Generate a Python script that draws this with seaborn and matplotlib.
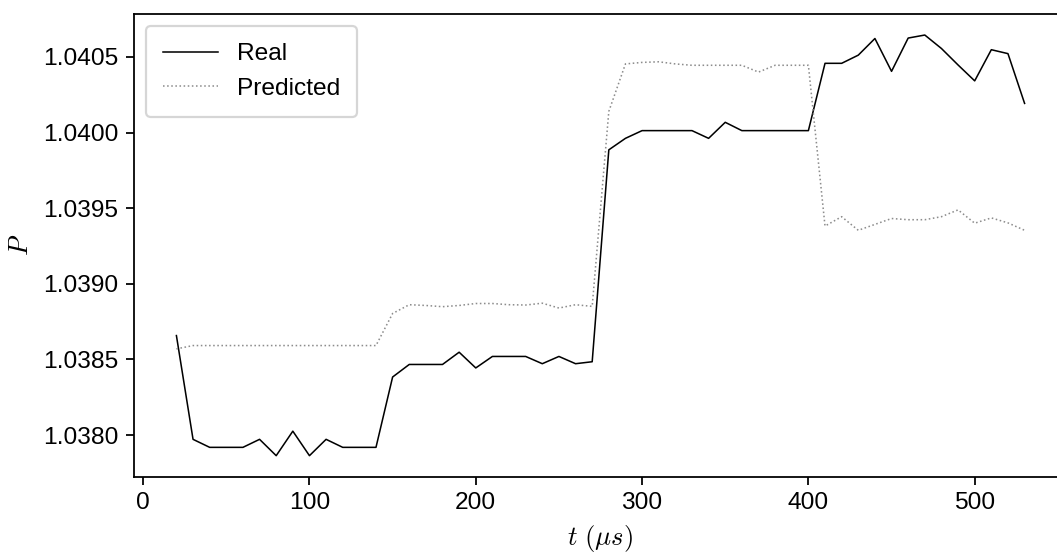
import numpy as np
import pandas as pd
import matplotlib
matplotlib.use("Agg")
import matplotlib.pyplot as plt
import seaborn as sns

# time axis (microseconds)
t = list(range(20, 540, 10))

real = [1.038658, 1.037972, 1.037919, 1.037919, 1.037919, 1.037972, 1.037864, 1.038026,
        1.037864, 1.037972, 1.037919, 1.037919, 1.037919,
        1.038384, 1.038467, 1.038467, 1.038467, 1.038548, 1.038444, 1.038520, 1.038520,
        1.038520, 1.038472, 1.038520, 1.038472, 1.038485,
        1.039886, 1.039962, 1.040013, 1.040013, 1.040013, 1.040013, 1.039962, 1.040068,
        1.040013, 1.040013, 1.040013, 1.040013, 1.040013,
        1.040458, 1.040458, 1.040512, 1.040622, 1.040405, 1.040625, 1.040645, 1.040556,
        1.040447, 1.040342, 1.040548, 1.040522, 1.040193]

predicted = [1.038570, 1.038592, 1.038592, 1.038592, 1.038592, 1.038592, 1.038592, 1.038592,
             1.038592, 1.038592, 1.038592, 1.038592, 1.038592,
             1.038804, 1.038862, 1.038857, 1.038849, 1.038857, 1.038870, 1.038870, 1.038862,
             1.038860, 1.038872, 1.038840, 1.038862, 1.038851,
             1.040140, 1.040454, 1.040464, 1.040468, 1.040454, 1.040445, 1.040445, 1.040445,
             1.040445, 1.040400, 1.040445, 1.040445, 1.040445,
             1.039382, 1.039444, 1.039354, 1.039393, 1.039432, 1.039424, 1.039424, 1.039444,
             1.039489, 1.039401, 1.039436, 1.039403, 1.039354]

labels = ["Real", "Predicted"]

df = pd.DataFrame({"t": t * 2,
                   "P": real + predicted,
                   "series": [labels[0]] * len(t) + [labels[1]] * len(t)})

plt.rcParams["font.family"] = ["Liberation Sans", "DejaVu Sans"]
plt.rcParams["mathtext.fontset"] = "cm"
plt.rcParams["font.size"] = 11

fig = plt.figure(figsize=(1057 / 160, 559 / 160), dpi=160)
ax = fig.add_axes([134 / 1057, 1 - 476.7 / 559, 933 / 1057, (476.7 - 14) / 559])

sns.lineplot(data=df[df.series == labels[0]], x="t", y="P", ax=ax,
             color="black", linewidth=0.7, label=labels[0])
sns.lineplot(data=df[df.series == labels[1]], x="t", y="P", ax=ax,
             color="#8c8c8c", linewidth=0.7, linestyle=":", label=labels[1])

ax.set_xlabel(r"$t\ (\mu s)$", fontsize=12)
ax.set_ylabel(r"$P$", fontsize=12)
ax.set_xticks([0, 100, 200, 300, 400, 500])
ax.set_yticks([1.0380, 1.0385, 1.0390, 1.0395, 1.0400, 1.0405])
ax.set_yticklabels(["1.0380", "1.0385", "1.0390", "1.0395", "1.0400", "1.0405"])
ax.legend(loc="upper left", fontsize=11, handlelength=2.25, handletextpad=0.75,
          borderpad=0.7)

fig.savefig("out.png", dpi=160)
